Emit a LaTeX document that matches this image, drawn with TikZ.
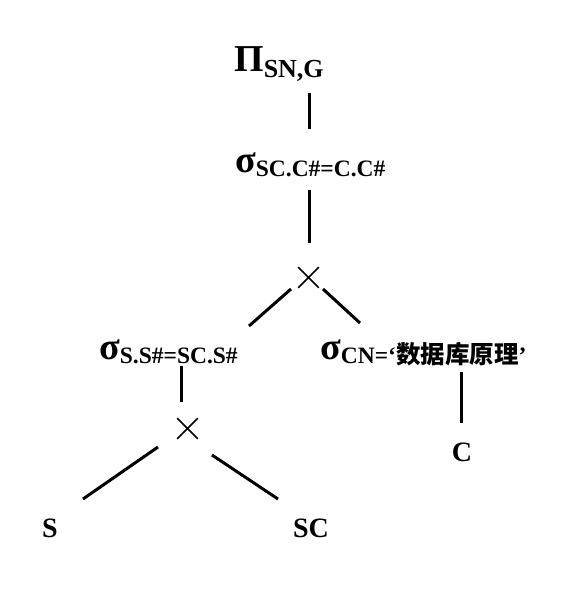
\documentclass[tikz,border=0pt]{standalone}
\usepackage{fontspec}
\setmainfont{Liberation Serif}
\newfontfamily\cjk{Noto Sans CJK SC}
\usetikzlibrary{shapes.misc}
\tikzset{
  lbl/.style={inner sep=0pt, anchor=base west, font=\bfseries},
  leaf/.style={inner sep=0pt, anchor=base, font=\fontsize{28}{28}\selectfont\bfseries},
  edge/.style={line width=3pt},
  prod/.style={cross out, draw, line width=1.6pt, minimum size=19pt, inner sep=0pt}
}
\newcommand{\sig}{{\fontsize{38}{38}\selectfont σ}}
\newcommand{\subx}[1]{\raisebox{-4pt}{\fontsize{23.5}{24}\selectfont #1}}
\begin{document}
\begin{tikzpicture}[x=1pt,y=-1pt]
\useasboundingbox (0,0) rectangle (577,613);
% labels
\node[lbl] (pi) at (234,71) {{\fontsize{38}{38}\selectfont Π}\raisebox{-6pt}{\fontsize{26}{26}\selectfont SN,G}};
\node[lbl] (s1) at (235,172) {\sig\subx{SC.C\#=C.C\#}};
\node[lbl] (s2) at (99,359) {\sig\subx{S.S\#=SC.S\#}};
\node[lbl] (s3) at (320,359) {\sig\subx{CN=‘{\fontsize{24.5}{25}\selectfont\cjk\bfseries 数据库原理}’}};
\node[prod] (x1) at (308.5,277.5) {};
\node[prod] (x2) at (187.5,428.5) {};
\node[leaf] (S) at (50,537) {S};
\node[leaf] (SC) at (311,537) {SC};
\node[leaf] (C) at (462,461) {C};
% connector end points
\coordinate (a1) at (309,93);  \coordinate (a2) at (309,129);
\coordinate (b1) at (309,190); \coordinate (b2) at (309,243);
\coordinate (c1) at (291,289); \coordinate (c2) at (249,326);
\coordinate (d1) at (323,289); \coordinate (d2) at (360,323);
\coordinate (e1) at (181,366); \coordinate (e2) at (181,402);
\coordinate (f1) at (461,372); \coordinate (f2) at (461,423);
\coordinate (g1) at (158,447); \coordinate (g2) at (83,499);
\coordinate (h1) at (212,455); \coordinate (h2) at (278,499);
\draw[edge] (a1) -- (a2);
\draw[edge] (b1) -- (b2);
\draw[edge] (c1) -- (c2);
\draw[edge] (d1) -- (d2);
\draw[edge] (e1) -- (e2);
\draw[edge] (f1) -- (f2);
\draw[edge] (g1) -- (g2);
\draw[edge] (h1) -- (h2);
\end{tikzpicture}
\end{document}
